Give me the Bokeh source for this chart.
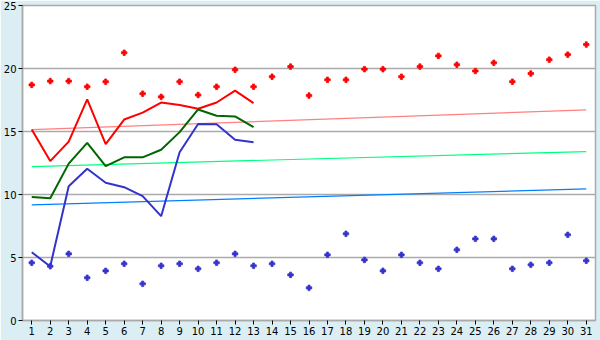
from bokeh.plotting import figure
from bokeh.models import Range1d, FixedTicker
from bokeh.embed import file_html
from bokeh.resources import INLINE

days = list(range(1, 32))

red_points = [18.7, 19.0, 19.0, 18.55, 18.95, 21.25, 18.0, 17.75, 18.95, 17.9,
              18.55, 19.9, 18.55, 19.35, 20.15, 17.85, 19.1, 19.1, 19.95, 19.95,
              19.35, 20.15, 21.0, 20.3, 19.8, 20.45, 18.95, 19.6, 20.7, 21.1, 21.9]
blue_points = [4.58, 4.31, 5.29, 3.39, 3.94, 4.5, 2.91, 4.34, 4.5, 4.1,
               4.58, 5.29, 4.34, 4.5, 3.62, 2.59, 5.21, 6.88, 4.81, 3.94,
               5.21, 4.58, 4.1, 5.61, 6.48, 6.48, 4.1, 4.42, 4.58, 6.8, 4.74]

line_days = list(range(1, 14))
red_line = [15.15, 12.65, 14.2, 17.55, 14.0, 15.95, 16.5, 17.3, 17.1, 16.8, 17.3, 18.25, 17.25]
green_line = [9.8, 9.7, 12.45, 14.1, 12.25, 12.95, 12.95, 13.55, 14.95, 16.75, 16.25, 16.2, 15.35]
blue_line = [5.42, 4.29, 10.66, 12.05, 10.93, 10.58, 9.87, 8.28, 13.35, 15.6, 15.58, 14.35, 14.15]

trend_days = [1, 31]
red_trend = [15.15, 16.72]
green_trend = [12.22, 13.41]
blue_trend = [9.18, 10.45]

y_ticks = [0, 5, 10, 15, 20, 25]

BG = "#DAEEF4"
GRID = "#AAAAAA"
FONT = "DejaVu Sans"

p = figure(width=600, height=340, output_backend="svg", toolbar_location=None,
           x_range=Range1d(0.5, 31.5), y_range=Range1d(0, 25),
           min_border_left=20, min_border_right=5, min_border_top=5, min_border_bottom=20)
p.border_fill_color = BG
p.background_fill_color = "white"
p.outline_line_color = GRID
p.outline_line_width = 1.5

p.xgrid.grid_line_color = None
p.ygrid.grid_line_color = GRID
p.ygrid.grid_line_width = 1.5

for ax in (p.xaxis[0], p.yaxis[0]):
    ax.axis_line_color = GRID
    ax.axis_line_width = 1.5
    ax.major_tick_line_color = "black"
    ax.major_tick_line_width = 1
    ax.major_tick_out = 4
    ax.major_tick_in = 0
    ax.minor_tick_line_color = None
    ax.major_label_text_font = FONT
    ax.major_label_text_font_size = "10px"
    ax.major_label_text_color = "black"
    ax.major_label_standoff = 2

p.xaxis.ticker = FixedTicker(ticks=days)
p.yaxis.ticker = FixedTicker(ticks=y_ticks)

# trend lines
p.line(trend_days, red_trend, line_color="#FF8080", line_width=1.2)
p.line(trend_days, green_trend, line_color="#00FF80", line_width=1.2)
p.line(trend_days, blue_trend, line_color="#0080FF", line_width=1.2)

# main lines
p.line(line_days, red_line, line_color="#FF0000", line_width=2)
p.line(line_days, green_line, line_color="#006600", line_width=2)
p.line(line_days, blue_line, line_color="#3333CC", line_width=2)

# points
p.scatter(days, red_points, marker="plus", size=5.5, fill_color="#FF0000", line_color="#FF0000", line_width=0.8)
p.scatter(days, blue_points, marker="plus", size=5.5, fill_color="#3333CC", line_color="#3333CC", line_width=0.8)

open("out.html", "w").write(file_html(p, INLINE))
